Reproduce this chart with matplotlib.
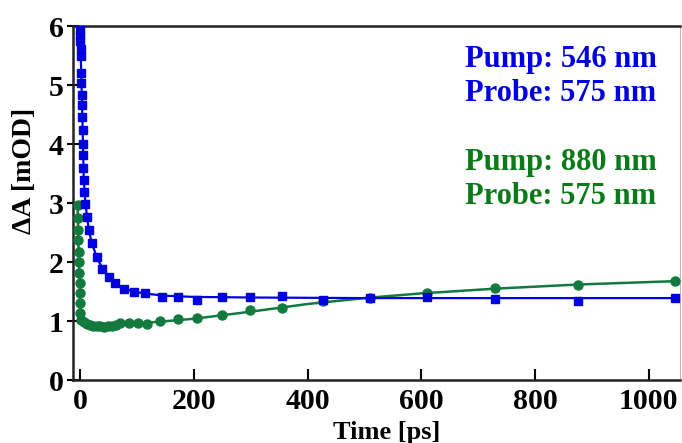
import numpy as np
import matplotlib
matplotlib.use("Agg")
import matplotlib.pyplot as plt

# === Donnees ===
# Pump 546 nm / Probe 575 nm (carres bleus)
t_blue = [-1, -0.5, 0, 0.5, 1, 1.5, 2, 2.5, 3, 3.5, 4, 4.5, 5, 5.5, 6, 7,
          8.8, 11.7, 14.6, 20.5, 29, 38, 50, 61.5, 76, 94, 114, 144, 172,
          205, 249, 299, 354, 427, 510, 610, 729, 875, 1047]
a_blue = [5.93, 5.85, 5.75, 5.62, 5.5, 5.2, 5.03, 4.83, 4.66, 4.46, 4.24,
          4.01, 3.81, 3.59, 3.39, 3.19, 2.99, 2.77, 2.54, 2.32, 2.09, 1.89,
          1.75, 1.64, 1.55, 1.50, 1.47, 1.41, 1.41, 1.36, 1.41, 1.41, 1.42,
          1.36, 1.39, 1.41, 1.37, 1.34, 1.39]

# Pump 880 nm / Probe 575 nm (cercles verts)
t_green = [-5, -4.5, -4, -3.5, -3, -2.5, -2, -1.5, -1, -0.5, 0, 1, 6,
           12, 17.6, 23, 29, 35, 41, 48, 56, 63, 70, 85, 102, 117, 141,
           172, 205, 249, 299, 354, 427, 510, 610, 729, 875, 1047]
a_green = [2.97, 2.75, 2.54, 2.37, 2.17, 2.0, 1.81, 1.64, 1.47, 1.30, 1.13,
           1.02, 0.99, 0.95, 0.93, 0.92, 0.92, 0.91, 0.90, 0.91, 0.92, 0.94,
           0.96, 0.96, 0.96, 0.95, 1.00, 1.03, 1.05, 1.10, 1.19, 1.23, 1.34,
           1.39, 1.48, 1.56, 1.62, 1.68]

# courbes d'ajustement
fit_t_blue = [-1, 0, 2, 4, 6, 9, 12, 15, 20, 30, 40, 50, 60, 80, 100, 120,
              150, 200, 300, 500, 1055]
fit_a_blue = [5.93, 5.75, 5.03, 4.24, 3.39, 2.99, 2.75, 2.54, 2.32, 2.06,
              1.87, 1.75, 1.64, 1.54, 1.49, 1.46, 1.43, 1.41, 1.40, 1.39, 1.39]
fit_t_green = [-5, -3, -1, 0, 1, 3, 6, 15, 30, 45, 60, 80, 100, 140, 200,
               250, 300, 400, 500, 600, 730, 875, 1055]
fit_a_green = [2.97, 2.17, 1.47, 1.13, 1.02, 0.99, 0.97, 0.93, 0.91, 0.90,
               0.92, 0.95, 0.96, 0.99, 1.04, 1.10, 1.16, 1.29, 1.39, 1.47,
               1.55, 1.62, 1.68]

x_ticks = [0, 200, 400, 600, 800, 1000]
y_ticks = [0, 1, 2, 3, 4, 5, 6]

blue = "#0000e0"
green = "#127a3e"
green_txt = "#0b7a18"

plt.rcParams["font.family"] = ["Liberation Serif", "DejaVu Serif"]
plt.rcParams["font.weight"] = "bold"

fig = plt.figure(figsize=(6.82, 4.43), dpi=100)
ax = fig.add_axes([0.107, 0.142, 0.890, 0.799])

# === Traces ===
ax.plot(fit_t_green, fit_a_green, color=green, lw=1.8, zorder=2)
ax.plot(t_green, a_green, "o", color=green, ms=6.5, zorder=3)
ax.plot(fit_t_blue, fit_a_blue, color=blue, lw=1.6, zorder=4)
ax.plot(t_blue, a_blue, "s", color=blue, ms=6.3, zorder=5)

ax.set_xlim(-13, 1055)
ax.set_ylim(0, 6)
ax.set_xticks(x_ticks)
ax.set_yticks(y_ticks)

ax.tick_params(axis="x", direction="in", length=8, width=1.5, pad=6,
               labelsize=21.5)
ax.tick_params(axis="y", direction="inout", length=9, width=1.5, pad=2,
               labelsize=21.5)
for lab in ax.get_xticklabels() + ax.get_yticklabels():
    lab.set_fontweight("bold")

for side in ["left", "bottom", "top"]:
    ax.spines[side].set_linewidth(1.8)
    ax.spines[side].set_color("#222222")
ax.spines["right"].set_linewidth(0.8)
ax.spines["right"].set_color("#bbbbbb")

ax.set_xlabel("Time [ps]", fontsize=19, fontweight="bold")
ax.xaxis.set_label_coords(0.517, -0.115)
ax.set_ylabel("ΔA [mOD]", fontsize=20, fontweight="bold")
ax.yaxis.set_label_coords(-0.06, 0.59)

# === Annotations ===
tx = 0.646
ax.text(tx, 0.885, "Pump: 546 nm", transform=ax.transAxes, color=blue,
        fontsize=22, fontweight="bold")
ax.text(tx, 0.788, "Probe: 575 nm", transform=ax.transAxes, color=blue,
        fontsize=22, fontweight="bold")
ax.text(tx, 0.594, "Pump: 880 nm", transform=ax.transAxes, color=green_txt,
        fontsize=22, fontweight="bold")
ax.text(tx, 0.497, "Probe: 575 nm", transform=ax.transAxes, color=green_txt,
        fontsize=22, fontweight="bold")

fig.savefig("out.png", dpi=100)
